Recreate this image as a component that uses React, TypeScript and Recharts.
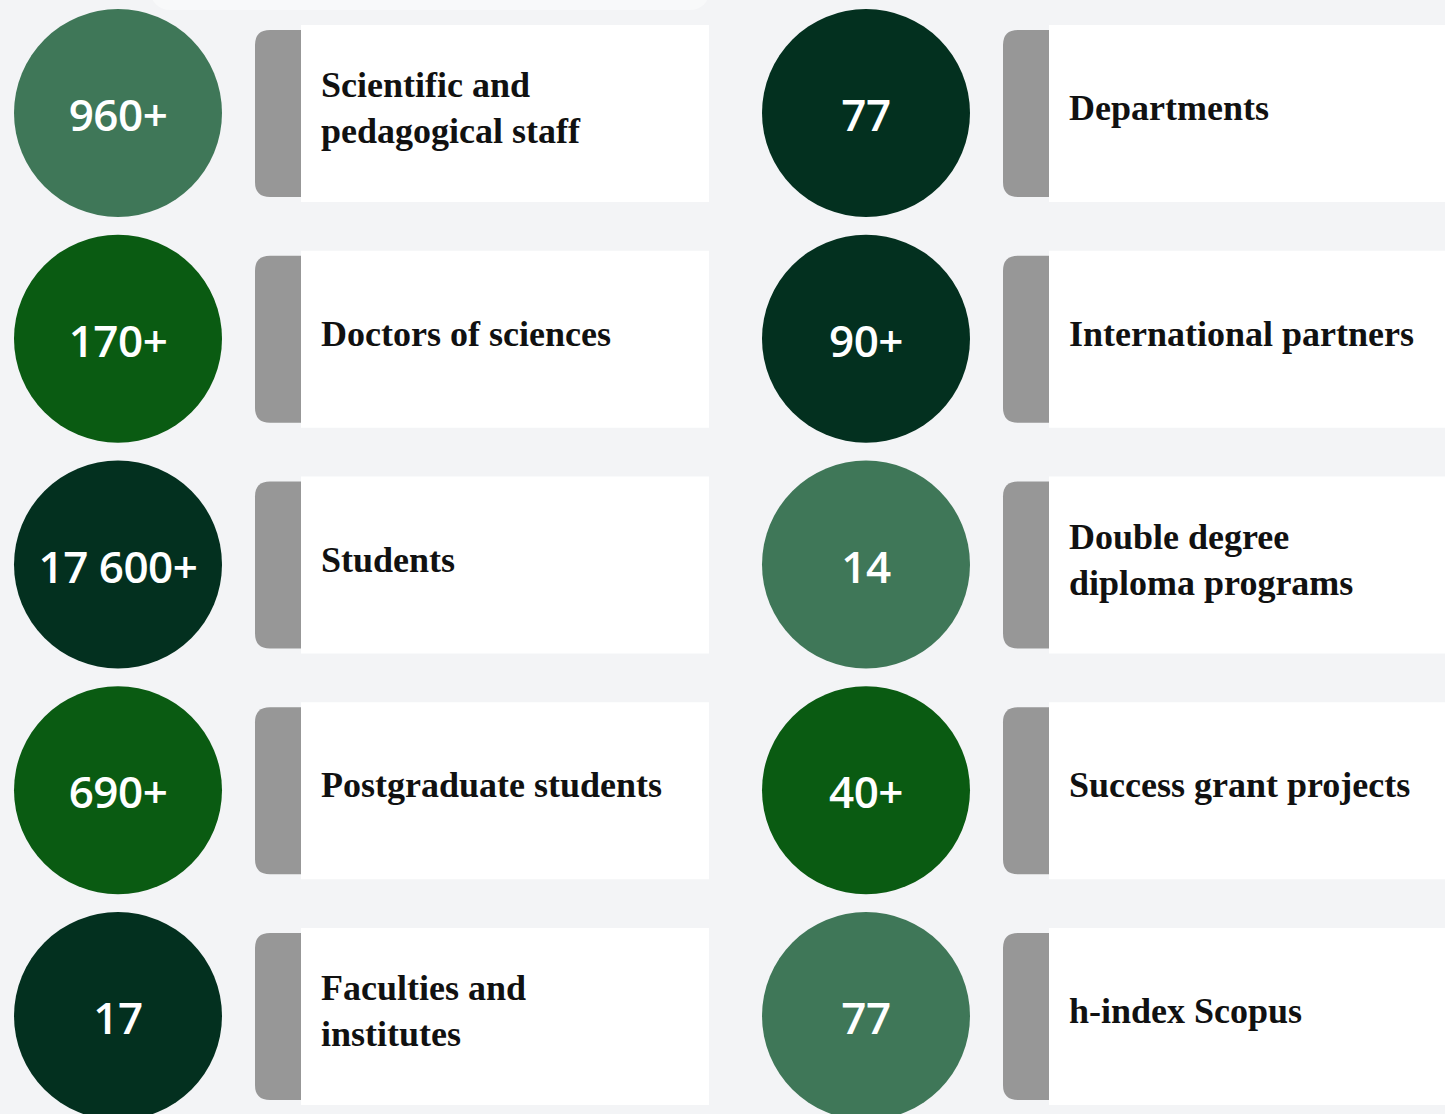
import { ScatterChart, Scatter, XAxis, YAxis } from "recharts";

// column index (0 = left, 1 = right) and row index of each card
const columns = [0, 0, 0, 0, 0, 1, 1, 1, 1, 1];
const rows = [0, 1, 2, 3, 4, 0, 1, 2, 3, 4];
const values = ["960+", "170+", "17 600+", "690+", "17", "77", "90+", "14", "40+", "77"];
const labels = [
  ["Scientific and", "pedagogical staff"],
  ["Doctors of sciences"],
  ["Students"],
  ["Postgraduate students"],
  ["Faculties and", "institutes"],
  ["Departments"],
  ["International partners"],
  ["Double degree", "diploma programs"],
  ["Success grant projects"],
  ["h-index Scopus"],
];
const tones = ["mid", "bright", "dark", "bright", "dark", "dark", "dark", "mid", "bright", "mid"];

const toneColor: Record<string, string> = {
  mid: "#3f7758",
  bright: "#0a5b12",
  dark: "#03301f",
};

const data = columns.map((c, i) => ({
  col: c,
  row: rows[i],
  value: values[i],
  label: labels[i],
  tone: tones[i],
}));

function StatCard(props: any) {
  const { cx, cy, payload } = props;
  if (cx == null || cy == null) return null;
  const lineH = 46;
  const firstY = cy - 5 - ((payload.label.length - 1) * lineH) / 2;
  const tx = cx + 137;
  const ty = cy - 83;
  return (
    <g>
      <path
        d={`M${tx + 15},${ty} H${tx + 60} V${ty + 167} H${tx + 15} Q${tx},${ty + 167} ${tx},${ty + 152} V${ty + 15} Q${tx},${ty} ${tx + 15},${ty} Z`}
        fill="#979797"
      />
      <rect x={cx + 183} y={cy - 88} width={408} height={177} fill="#ffffff" />
      <circle cx={cx} cy={cy} r={104} fill={toneColor[payload.tone]} />
      <text
        x={cx}
        y={cy + 1}
        textAnchor="middle"
        dominantBaseline="central"
        fill="#ffffff"
        fontFamily="'Open Sans', sans-serif"
        fontWeight={600}
        fontSize={44}
        letterSpacing={-0.5}
      >
        {payload.value}
      </text>
      <text
        x={cx + 203}
        y={firstY}
        fill="#111111"
        fontFamily="'Liberation Serif', serif"
        fontWeight={700}
        fontSize={36}
        dominantBaseline="central"
      >
        {payload.label.map((l: string, k: number) => (
          <tspan key={k} x={cx + 203} dy={k === 0 ? 0 : lineH}>
            {l}
          </tspan>
        ))}
      </text>
    </g>
  );
}

export default function App() {
  return (
    <div style={{ position: "fixed", left: 0, top: 0, width: 1445, height: 1114, background: "#f3f4f6" }}>
      <svg width={1445} height={1114} style={{ position: "absolute", left: 0, top: 0 }}>
        <rect x={150} y={-30} width={560} height={40} rx={20} fill="#f8f9fa" />
      </svg>
      <div style={{ position: "absolute", left: 0, top: 0 }}>
        <ScatterChart
          width={1445}
          height={1114}
          margin={{ top: 113, right: 579, bottom: 98, left: 118 }}
        >
          <XAxis type="number" dataKey="col" domain={[0, 1]} hide />
          <YAxis type="number" dataKey="row" domain={[0, 4]} reversed hide />
          <Scatter data={data} shape={StatCard} isAnimationActive={false} />
        </ScatterChart>
      </div>
    </div>
  );
}
